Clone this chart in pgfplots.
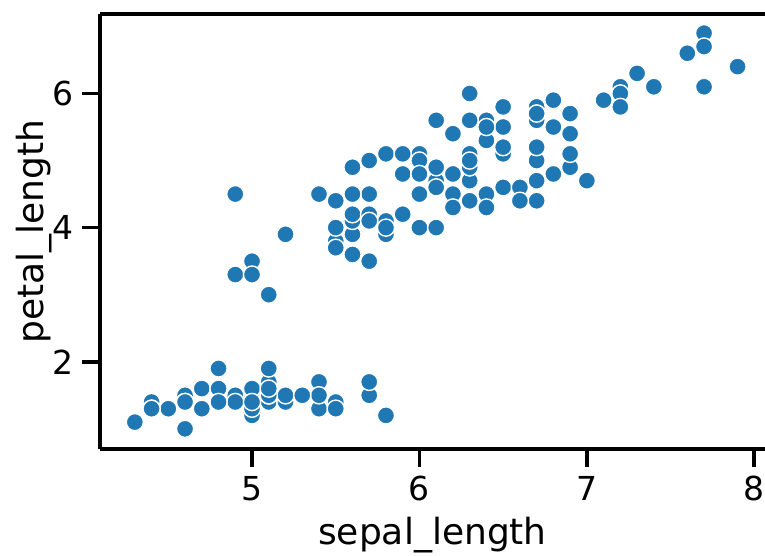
\documentclass[border=0pt]{standalone}
\usepackage{fontspec}
\setmainfont{DejaVu Sans}
\usepackage{pgfplots}
\pgfplotsset{compat=1.18}
\definecolor{c0}{HTML}{1F77B4}
\begin{document}
\begin{tikzpicture}
\begin{axis}[name=ax, scale only axis, width=332.5pt, height=217.5pt,
  xmin=4.092, xmax=8.064, ymin=0.699, ymax=7.185,
  axis x line*=box, axis y line*=left,
  axis line style={-, line width=1.875pt, black},
  xtick={5,6,7,8}, ytick={2,4,6},
  xtick pos=bottom, ytick pos=left,
  tick align=outside, major tick length=9pt,
  tick style={line width=1.875pt, black},
  /pgf/number format/assume math mode=true,
  ticklabel style={font=\fontsize{16.5}{19.8}\selectfont},
  xticklabel style={yshift=-1pt},
  yticklabel style={xshift=-0.5pt},
  label style={font=\fontsize{18}{21.6}\selectfont},
  xlabel={sepal\_length}, ylabel={petal\_length},
  xlabel style={at={(axis description cs:0.5,-0.197)}, anchor=center},
  ylabel style={at={(axis description cs:-0.099,0.5)}, anchor=center},
  clip=false,
]
\addplot[only marks, mark=*, mark size=4.3pt, mark options={fill=c0, draw=white, line width=0.7pt}] table {
x y
5.1 1.4
4.9 1.4
4.7 1.3
4.6 1.5
5.0 1.4
5.4 1.7
4.6 1.4
5.0 1.5
4.4 1.4
4.9 1.5
5.4 1.5
4.8 1.6
4.8 1.4
4.3 1.1
5.8 1.2
5.7 1.5
5.4 1.3
5.1 1.4
5.7 1.7
5.1 1.5
5.4 1.7
5.1 1.5
4.6 1.0
5.1 1.7
4.8 1.9
5.0 1.6
5.0 1.6
5.2 1.5
5.2 1.4
4.7 1.6
4.8 1.6
5.4 1.5
5.2 1.5
5.5 1.4
4.9 1.5
5.0 1.2
5.5 1.3
4.9 1.4
4.4 1.3
5.1 1.5
5.0 1.3
4.5 1.3
4.4 1.3
5.0 1.6
5.1 1.9
4.8 1.4
5.1 1.6
4.6 1.4
5.3 1.5
5.0 1.4
7.0 4.7
6.4 4.5
6.9 4.9
5.5 4.0
6.5 4.6
5.7 4.5
6.3 4.7
4.9 3.3
6.6 4.6
5.2 3.9
5.0 3.5
5.9 4.2
6.0 4.0
6.1 4.7
5.6 3.6
6.7 4.4
5.6 4.5
5.8 4.1
6.2 4.5
5.6 3.9
5.9 4.8
6.1 4.0
6.3 4.9
6.1 4.7
6.4 4.3
6.6 4.4
6.8 4.8
6.7 5.0
6.0 4.5
5.7 3.5
5.5 3.8
5.5 3.7
5.8 3.9
6.0 5.1
5.4 4.5
6.0 4.5
6.7 4.7
6.3 4.4
5.6 4.1
5.5 4.0
5.5 4.4
6.1 4.6
5.8 4.0
5.0 3.3
5.6 4.2
5.7 4.2
5.7 4.2
6.2 4.3
5.1 3.0
5.7 4.1
6.3 6.0
5.8 5.1
7.1 5.9
6.3 5.6
6.5 5.8
7.6 6.6
4.9 4.5
7.3 6.3
6.7 5.8
7.2 6.1
6.5 5.1
6.4 5.3
6.8 5.5
5.7 5.0
5.8 5.1
6.4 5.3
6.5 5.5
7.7 6.7
7.7 6.9
6.0 5.0
6.9 5.7
5.6 4.9
7.7 6.7
6.3 4.9
6.7 5.7
7.2 6.0
6.2 4.8
6.1 4.9
6.4 5.6
7.2 5.8
7.4 6.1
7.9 6.4
6.4 5.6
6.3 5.1
6.1 5.6
7.7 6.1
6.3 5.6
6.4 5.5
6.0 4.8
6.9 5.4
6.7 5.6
6.9 5.1
5.8 5.1
6.8 5.9
6.7 5.7
6.7 5.2
6.3 5.0
6.5 5.2
6.2 5.4
5.9 5.1
};
\end{axis}
\pgfresetboundingbox
\path[use as bounding box] ([xshift=-50pt,yshift=-53pt]ax.south west) rectangle ([yshift=7pt]ax.north east);
\end{tikzpicture}
\end{document}
